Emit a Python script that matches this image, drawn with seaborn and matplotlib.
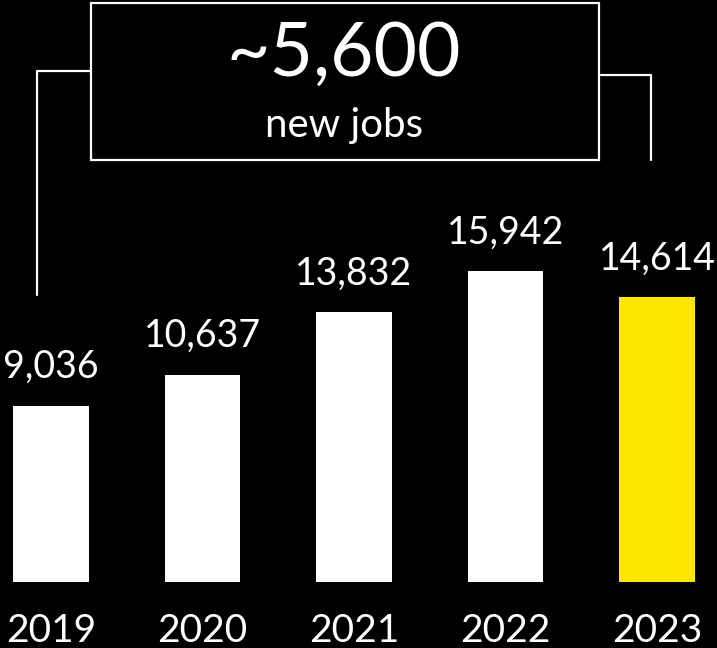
import matplotlib
matplotlib.use("Agg")
import matplotlib.pyplot as plt
import seaborn as sns
import pandas as pd
from matplotlib.patches import Rectangle
from matplotlib.lines import Line2D

# Headcount by year
years = ["2019", "2020", "2021", "2022", "2023"]
jobs = [9036, 10637, 13832, 15942, 14614]
bar_colors = ["#FFFFFF", "#FFFFFF", "#FFFFFF", "#FFFFFF", "#FFE600"]
headline = "~5,600"
headline_sub = "new jobs"

sns.set_theme(style="white")
plt.rcParams["font.family"] = ["Lato", "DejaVu Sans"]

W, H = 717, 648
fig = plt.figure(figsize=(W / 100, H / 100), dpi=100, facecolor="black")

# axes: bottom edge is the zero baseline
base_px = 582
ax = fig.add_axes([0, (H - base_px) / H, 1, base_px / H])
ax.set_facecolor("black")

df = pd.DataFrame({"year": years, "jobs": jobs})
sns.barplot(data=df, x="year", y="jobs", hue="year", palette=bar_colors,
            width=0.5, saturation=1, legend=False, linewidth=0, ax=ax)

step = 151.5
first = 51
ax.set_xlim(-first / step, (W - first) / step)
ax.set_ylim(0, base_px * 51.3)

for i, v in enumerate(jobs):
    ax.annotate(f"{v:,}", (i, v), xytext=(0, 15), textcoords="offset points",
                ha="center", va="bottom", color="white", fontsize=27,
                annotation_clip=False)

ax.set_xlabel("")
ax.set_ylabel("")
ax.set_yticks([])
ax.tick_params(axis="x", length=0, pad=22, labelsize=28, colors="white")
for s in ax.spines.values():
    s.set_visible(False)


def fx(px):
    return px / W


def fy(py):
    return 1 - py / H


# headline box
fig.add_artist(Rectangle((fx(91), fy(160)), fx(599) - fx(91), fy(3) - fy(160),
                         transform=fig.transFigure, fill=False,
                         edgecolor="white", linewidth=1.6))
# bracket lines
fig.add_artist(Line2D([fx(91), fx(37), fx(37)], [fy(71), fy(71), fy(295)],
                      transform=fig.transFigure, color="white", linewidth=1.6))
fig.add_artist(Line2D([fx(601), fx(651), fx(651)], [fy(75), fy(75), fy(160)],
                      transform=fig.transFigure, color="white", linewidth=1.6))

fig.text(fx(344), fy(54), headline, ha="center", va="center", color="white",
         fontsize=54)
fig.text(fx(344), fy(125), headline_sub, ha="center", va="center",
         color="white", fontsize=29)

fig.savefig("out.png", dpi=100, facecolor="black")
